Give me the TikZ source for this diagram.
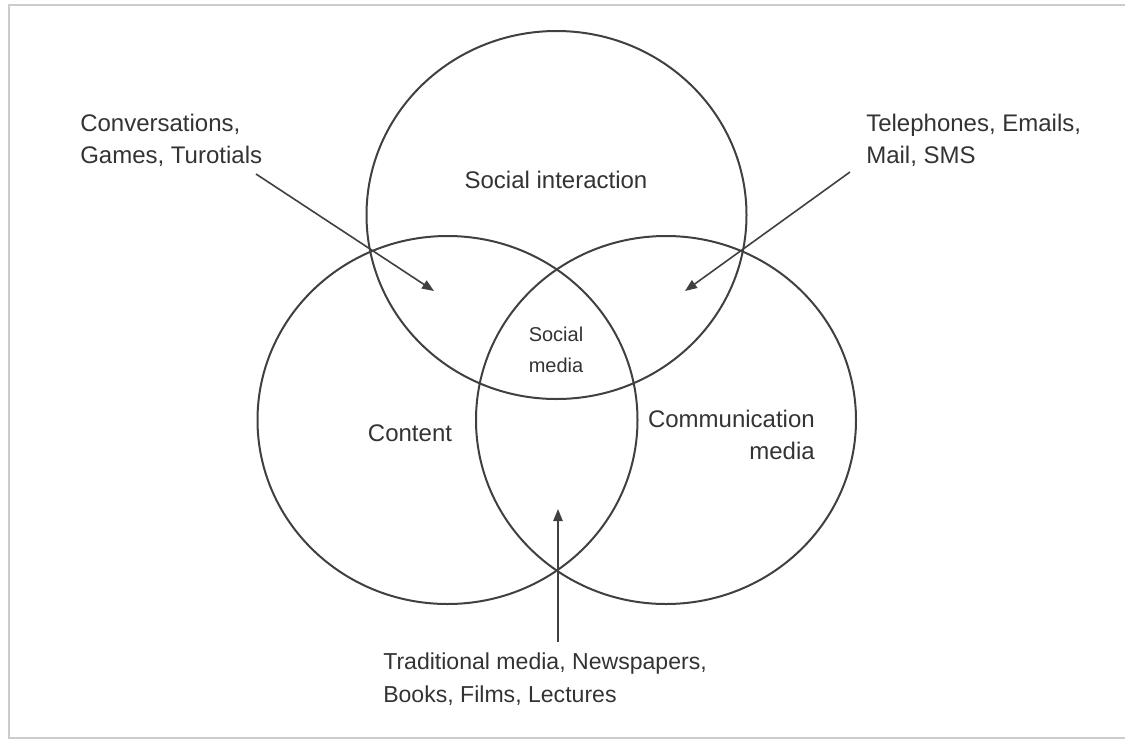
\documentclass[tikz,border=0pt]{standalone}
\usepackage{fontspec}
\setmainfont{Liberation Sans}
\usetikzlibrary{shapes.geometric,arrows.meta}
\begin{document}
\begin{tikzpicture}[x=0.75pt,y=-0.75pt,
  venn/.style={draw=black!75, line width=1.5pt, ellipse, minimum width=285pt, minimum height=276pt, inner sep=0pt, outer sep=0pt},
  lbl/.style={text=black!80, font=\fontsize{18}{24}\selectfont, inner sep=0pt},
  small/.style={text=black!80, font=\fontsize{15}{23}\selectfont, inner sep=0pt},
  arr/.style={draw=black!75, line width=1.2pt, -{Triangle[length=9pt,width=7pt]}},
  frameline/.style={draw=black!20, line width=2pt}]
\useasboundingbox (0,0) rectangle (1125,740);
\draw[frameline] (1125,5) -- (9,5) -- (9,738) -- (1125,738);

% circles
\node[venn] (social) at (556.5,215) {};
\node[venn] (content) at (447.5,420) {};
\node[venn] (comm) at (666,420) {};

% labels
\node[lbl, anchor=base] (si) at (556,188) {Social interaction};
\node[small, align=center, anchor=north] (sm) at (556,327) {Social\\media};
\node[lbl, anchor=base] (ct) at (410,441) {Content};
\node[lbl, align=right, anchor=north east] (cm) at (815,410) {Communication\\media};

\node[lbl, align=left, anchor=north west] (conv) at (80,114) {Conversations,\\Games, Turotials};
\node[lbl, align=left, anchor=north west] (tel) at (866,114) {Telephones, Emails,\\Mail, SMS};
\node[lbl, align=left, anchor=north west, font=\fontsize{17.3}{24.5}\selectfont] (trad) at (383,653) {Traditional media, Newspapers,\\Books, Films, Lectures};

% arrows
\coordinate (a1s) at (256,174);
\coordinate (a1e) at (434,291);
\coordinate (a2s) at (850,172);
\coordinate (a2e) at (685,291);
\coordinate (a3s) at (558,642);
\coordinate (a3e) at (558,509);
\draw[arr] (a1s) -- (a1e);
\draw[arr] (a2s) -- (a2e);
\draw[arr] (a3s) -- (a3e);
\end{tikzpicture}
\end{document}
